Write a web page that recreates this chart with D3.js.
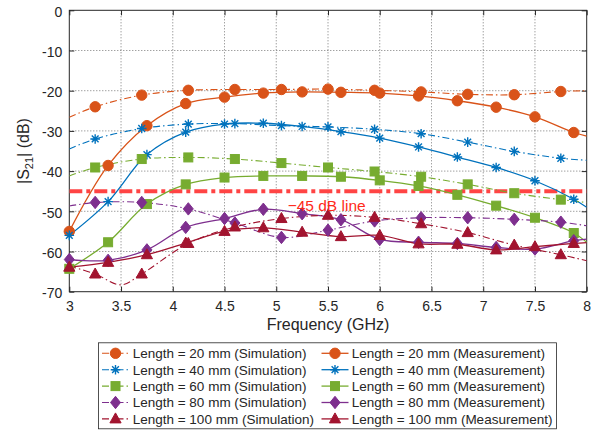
<!DOCTYPE html>
<html><head><meta charset="utf-8">
<script src="https://cdn.jsdelivr.net/npm/d3@7"></script>
<style>
body{margin:0;background:#fff;}
svg{font-family:"Liberation Sans",Arial,Helvetica,sans-serif;}
</style></head><body>
<svg id="c" width="597" height="432"></svg>
<script>
// ---- data: [frequency GHz, |S21| dB, marker flag] ----
const sim20 = [[3.0,-26.6],[3.25,-24.0,1],[3.70,-21.1,1],[4.15,-19.9,1],[4.60,-19.7,1],[5.05,-19.7,1],[5.50,-19.6,1],[5.95,-19.9,1],[6.40,-20.3,1],[6.85,-20.9,1],[7.30,-21.0,1],[7.75,-20.2,1],[8.0,-20.0]];
const meas20 = [[3.0,-55.0,1],[3.375,-38.6,1],[3.75,-28.7,1],[4.125,-23.2,1],[4.5,-21.6,1],[4.875,-20.6,1],[5.25,-20.3,1],[5.625,-20.4,1],[6.0,-20.6,1],[6.375,-21.3,1],[6.75,-22.5,1],[7.125,-24.1,1],[7.5,-26.5,1],[7.875,-30.4,1],[8.0,-31.3]];
const sim40 = [[3.0,-34.5],[3.25,-32.0,1],[3.70,-29.4,1],[4.15,-28.3,1],[4.60,-28.2,1],[5.05,-28.7,1],[5.50,-29.0,1],[5.95,-29.6,1],[6.40,-30.7,1],[6.85,-32.8,1],[7.30,-35.1,1],[7.75,-36.8,1],[8.0,-37.3]];
const meas40 = [[3.0,-56.0,1],[3.375,-47.6,1],[3.75,-35.9,1],[4.125,-30.3,1],[4.5,-28.3,1],[4.875,-28.1,1],[5.25,-28.9,1],[5.625,-30.2,1],[6.0,-31.8,1],[6.375,-34.0,1],[6.75,-36.5,1],[7.125,-39.1,1],[7.5,-42.4,1],[7.875,-47.0,1],[8.0,-49.0]];
const sim60 = [[3.0,-41.2],[3.25,-39.1,1],[3.70,-37.0,1],[4.15,-36.6,1],[4.60,-37.0,1],[5.05,-38.0,1],[5.50,-39.1,1],[5.95,-40.1,1],[6.40,-41.4,1],[6.85,-43.3,1],[7.30,-45.5,1],[7.75,-47.1,1],[8.0,-47.8]];
const meas60 = [[3.0,-64.3,1],[3.375,-57.7,1],[3.75,-48.2,1],[4.125,-43.3,1],[4.5,-41.6,1],[4.875,-41.2,1],[5.25,-41.2,1],[5.625,-41.4,1],[6.0,-42.3,1],[6.375,-43.7,1],[6.75,-45.9,1],[7.125,-48.6,1],[7.5,-51.6,1],[7.875,-55.4,1],[8.0,-57.7]];
const sim80 = [[3.0,-48.7],[3.25,-47.8,1],[3.70,-47.8,1],[4.15,-49.4,1],[4.60,-52.9,1],[5.05,-56.5,1],[5.50,-54.7,1],[5.95,-52.4,1],[6.40,-51.6,1],[6.85,-51.6,1],[7.30,-52.0,1],[7.75,-52.7,1],[8.0,-53.6]];
const meas80 = [[3.0,-62.0,1],[3.375,-62.2,1],[3.75,-59.6,1],[4.125,-54.0,1],[4.5,-51.8,1],[4.875,-49.5,1],[5.25,-50.6,1],[5.625,-52.1,1],[6.0,-57.0,1],[6.375,-57.7,1],[6.75,-58.0,1],[7.125,-59.0,1],[7.5,-59.4,1],[7.875,-57.3,1],[8.0,-56.9]];
const sim100 = [[3.0,-63.6],[3.25,-65.6,1],[3.5,-68.3],[3.70,-65.6,1],[4.15,-58.0,1],[4.60,-53.9,1],[5.05,-51.8,1],[5.50,-51.0,1],[5.95,-51.5,1],[6.40,-53.1,1],[6.85,-55.3,1],[7.30,-58.4,1],[7.75,-60.8,1],[8.0,-62.3]];
const meas100 = [[3.0,-63.9,1],[3.375,-62.7,1],[3.75,-60.8,1],[4.125,-57.9,1],[4.5,-55.0,1],[4.875,-54.1,1],[5.25,-55.2,1],[5.625,-56.3,1],[6.0,-56.0,1],[6.375,-58.1,1],[6.75,-58.2,1],[7.125,-59.6,1],[7.5,-58.8,1],[7.875,-58.0,1],[8.0,-57.8]];

const simLabels = ["Length = 20 mm (Simulation)","Length = 40 mm (Simulation)","Length = 60 mm (Simulation)","Length = 80 mm (Simulation)","Length = 100 mm (Simulation)"];
const measLabels = ["Length = 20 mm (Measurement)","Length = 40 mm (Measurement)","Length = 60 mm (Measurement)","Length = 80 mm (Measurement)","Length = 100 mm (Measurement)"];
const xTicks = [3,3.5,4,4.5,5,5.5,6,6.5,7,7.5,8];
const yTicks = [0,-10,-20,-30,-40,-50,-60,-70];
const refLevel = -45;
const refLabel = "\u221245 dB line";
const refLabelPos = [5.11,-50.0];
const xTitle = "Frequency (GHz)";

// ---- styling ----
const colors = ["#D95319","#0072BD","#77AC30","#7E2F8E","#A2142F"];
const symbols = ["circle","asterisk","square","diamond","triangle"];
const simSeries = [sim20,sim40,sim60,sim80,sim100];
const measSeries = [meas20,meas40,meas60,meas80,meas100];

const svg = d3.select("#c");
const L=69.3,R=586.7,T=10.3,B=291.7;
const x = d3.scaleLinear().domain([3,8]).range([L,R]);
const y = d3.scaleLinear().domain([-70,0]).range([B,T]);
const axisCol="#262626";

// grid
const grid = svg.append("g");
xTicks.slice(1,-1).forEach(t=>grid.append("line").attr("x1",x(t)).attr("x2",x(t)).attr("y1",T).attr("y2",B));
yTicks.slice(1,-1).forEach(t=>grid.append("line").attr("x1",L).attr("x2",R).attr("y1",y(t)).attr("y2",y(t)));
grid.selectAll("line").attr("stroke","#3a3a3a").attr("stroke-width",0.9).attr("stroke-dasharray","1,2").attr("opacity",0.75);

svg.append("defs").append("clipPath").attr("id","clip").append("rect").attr("x",L).attr("y",T).attr("width",R-L).attr("height",B-T);

// axes
const fmtX = d=>String(d);
const fmtY = d=>d<0?"-"+Math.abs(d):String(d);
const gx = svg.append("g").attr("transform",`translate(0,${B})`)
  .call(d3.axisBottom(x).tickValues(xTicks).tickFormat(fmtX).tickSizeInner(-5).tickSizeOuter(0).tickPadding(9.6));
const gy = svg.append("g").attr("transform",`translate(${L},0)`)
  .call(d3.axisLeft(y).tickValues(yTicks).tickFormat(fmtY).tickSizeInner(-5).tickSizeOuter(0).tickPadding(7));
const gt = svg.append("g").attr("transform",`translate(0,${T})`)
  .call(d3.axisTop(x).tickValues(xTicks).tickFormat("").tickSizeInner(-5).tickSizeOuter(0));
const gr = svg.append("g").attr("transform",`translate(${R},0)`)
  .call(d3.axisRight(y).tickValues(yTicks).tickFormat("").tickSizeInner(-5).tickSizeOuter(0));
[gx,gy,gt,gr].forEach(g=>{
  g.select(".domain").remove();
  g.selectAll("line").attr("stroke",axisCol);
  g.selectAll("text").attr("fill",axisCol).style("font-size","14px").style("font-family","'Liberation Sans',Arial,sans-serif");
});
gy.selectAll("text").attr("dy","0.42em");
svg.append("rect").attr("x",L).attr("y",T).attr("width",R-L).attr("height",B-T)
  .attr("fill","none").attr("stroke",axisCol).attr("stroke-width",1);

// markers
function marker(g,type,cx,cy,col,s){
  s = s||1;
  if(type==="circle") g.append("circle").attr("cx",cx).attr("cy",cy).attr("r",5.2*s).attr("fill",col).attr("stroke",col);
  else if(type==="square") g.append("rect").attr("x",cx-4.5*s).attr("y",cy-4.5*s).attr("width",9*s).attr("height",9*s).attr("fill",col).attr("stroke",col);
  else if(type==="diamond") g.append("path").attr("d",`M${cx},${cy-6.2*s}L${cx+5*s},${cy}L${cx},${cy+6.2*s}L${cx-5*s},${cy}Z`).attr("fill",col).attr("stroke",col);
  else if(type==="triangle") g.append("path").attr("d",`M${cx},${cy-6*s}L${cx+5.6*s},${cy+4*s}L${cx-5.6*s},${cy+4*s}Z`).attr("fill",col).attr("stroke",col);
  else if(type==="asterisk"){
    const r=4.8*s, d=r*0.7071;
    g.append("path").attr("d",`M${cx-r},${cy}L${cx+r},${cy}M${cx},${cy-r}L${cx},${cy+r}M${cx-d},${cy-d}L${cx+d},${cy+d}M${cx-d},${cy+d}L${cx+d},${cy-d}`)
      .attr("stroke",col).attr("stroke-width",1.4).attr("fill","none");
  }
}

const line = d3.line().x(d=>x(d[0])).y(d=>y(d[1])).curve(d3.curveCatmullRom.alpha(0.5));
const plot = svg.append("g").attr("clip-path","url(#clip)");
const simDash="7,3,1.5,3";

// reference line (behind data)
plot.append("line").attr("x1",x(3)).attr("x2",x(8)).attr("y1",y(refLevel)).attr("y2",y(refLevel))
  .attr("stroke","#ff4444").attr("stroke-width",4).attr("stroke-dasharray","13,4,4,4");

for(let i=0;i<5;i++){
  plot.append("path").datum(simSeries[i]).attr("d",line).attr("fill","none").attr("stroke",colors[i]).attr("stroke-width",1.1).attr("stroke-dasharray",simDash);
  plot.append("path").datum(measSeries[i]).attr("d",line).attr("fill","none").attr("stroke",colors[i]).attr("stroke-width",1.3);
}
const mk = svg.append("g");
for(let i=0;i<5;i++){
  simSeries[i].filter(d=>d[2]).forEach(d=>marker(mk,symbols[i],x(d[0]),y(d[1]),colors[i]));
  measSeries[i].filter(d=>d[2]).forEach(d=>marker(mk,symbols[i],x(d[0]),y(d[1]),colors[i]));
}

svg.append("text").attr("x",x(refLabelPos[0])).attr("y",y(refLabelPos[1])).text(refLabel)
  .attr("fill","#ff2a1a").style("font-size","15.5px");

// axis titles
svg.append("text").attr("x",(L+R)/2).attr("y",329.5).attr("text-anchor","middle").attr("fill",axisCol)
  .style("font-size","16px").text(xTitle);
const yt = svg.append("text").attr("transform",`translate(29,${(T+B)/2}) rotate(-90)`).attr("text-anchor","middle")
  .attr("fill",axisCol).style("font-size","16px");
yt.append("tspan").text("|S");
yt.append("tspan").text("21").attr("font-size","11px").attr("dy","4");
yt.append("tspan").text("| (dB)").attr("dy","-4");

// legend
const lg = svg.append("g");
lg.append("rect").attr("x",98.5).attr("y",342.8).attr("width",458).attr("height",86)
  .attr("fill","#fff").attr("stroke",axisCol).attr("stroke-width",0.8);
const rowY = i=>353.3+i*16.4;
for(let i=0;i<5;i++){
  const yy=rowY(i);
  lg.append("line").attr("x1",102).attr("x2",130).attr("y1",yy).attr("y2",yy).attr("stroke",colors[i]).attr("stroke-width",1.1).attr("stroke-dasharray",simDash);
  marker(lg,symbols[i],115.5,yy,colors[i]);
  lg.append("text").attr("x",132.7).attr("y",yy+4.8).text(simLabels[i]).attr("fill",axisCol).style("font-size","13.5px");
  lg.append("line").attr("x1",321.5).attr("x2",348.5).attr("y1",yy).attr("y2",yy).attr("stroke",colors[i]).attr("stroke-width",1.3);
  marker(lg,symbols[i],335,yy,colors[i]);
  lg.append("text").attr("x",351.7).attr("y",yy+4.8).text(measLabels[i]).attr("fill",axisCol).style("font-size","13.5px");
}
</script>
</body></html>
